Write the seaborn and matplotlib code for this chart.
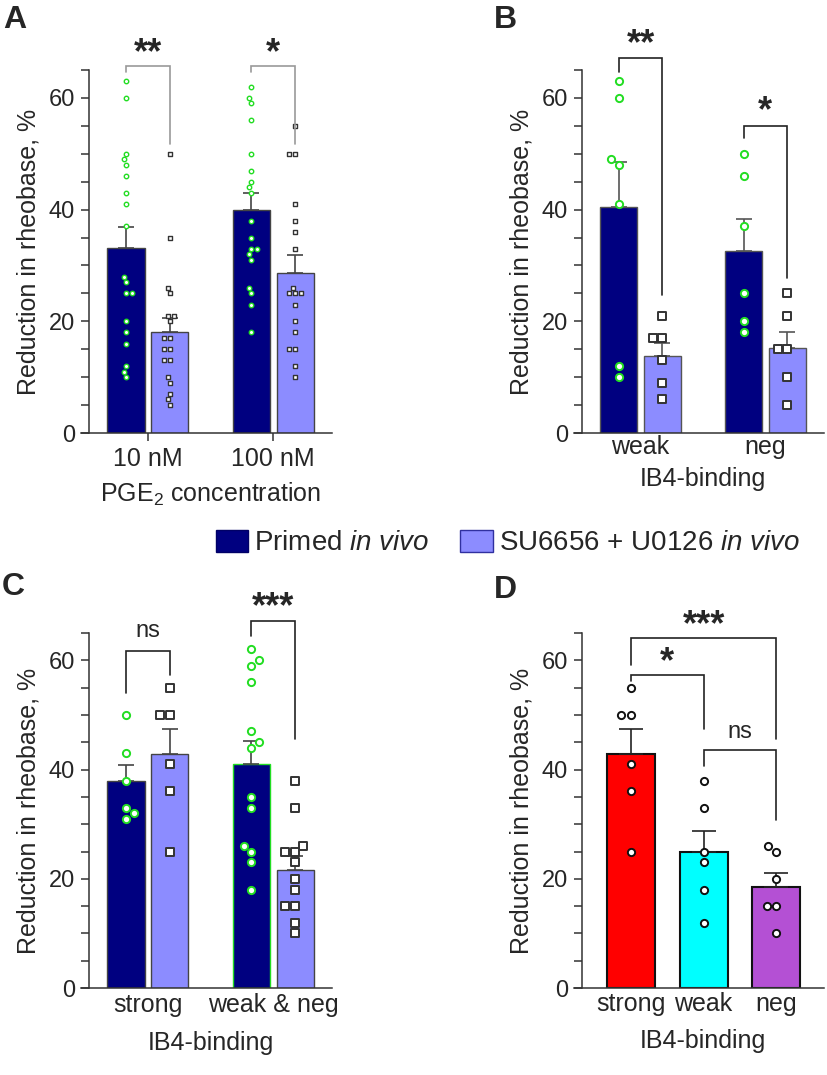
import numpy as np
import pandas as pd
import matplotlib
matplotlib.use("Agg")
import matplotlib.pyplot as plt
from matplotlib.patches import Patch
from matplotlib.ticker import MultipleLocator
import seaborn as sns

# reduction in rheobase (%) for each neuron

# A: PGE2 concentration
a_groups = ["10 nM", "100 nM"]
a_primed = [[63, 60, 50, 49, 48, 46, 43, 41, 37, 28, 27, 25, 25, 20, 18, 16, 12, 11, 10],
            [62, 60, 59, 56, 50, 47, 45, 44, 43, 38, 35, 33, 33, 32, 31, 26, 25, 23, 18]]
a_su = [[50, 35, 26, 25, 21, 21, 20, 17, 17, 15, 15, 13, 13, 10, 9, 7, 6, 5],
        [55, 50, 50, 41, 38, 36, 33, 26, 25, 25, 25, 23, 20, 18, 15, 15, 12, 10]]

# B: IB4-binding, weak / neg
b_groups = ["weak", "neg"]
b_primed = [[63, 60, 49, 48, 41, 12, 10],
            [50, 46, 37, 25, 20, 18]]
b_su = [[21, 17, 17, 13, 9, 6],
        [25, 21, 15, 15, 10, 5]]

# C: IB4-binding, strong / weak & neg
c_groups = ["strong", "weak & neg"]
c_primed = [[50, 43, 38, 33, 32, 31],
            [62, 60, 59, 56, 47, 45, 44, 35, 33, 26, 25, 23, 18]]
c_su = [[55, 50, 50, 41, 36, 25],
        [38, 33, 26, 25, 25, 23, 20, 18, 15, 15, 12, 10]]

# D: primed only, by IB4-binding
d_groups = ["strong", "weak", "neg"]
d_values = [[55, 50, 50, 41, 36, 25],
            [38, 33, 25, 23, 18, 12],
            [26, 25, 20, 15, 15, 10]]

legend_labels = ["Primed $\\mathit{in\\ vivo}$", "SU6656 + U0126 $\\mathit{in\\ vivo}$"]
bar_colors = {"primed": "#000080", "su": "#8c8cff"}
d_colors = {"strong": "#ff0000", "weak": "#00ffff", "neg": "#b450d4"}
green = "#22dd22"

sns.set_style("ticks")
plt.rcParams["font.family"] = ["Liberation Sans", "DejaVu Sans"]
plt.rcParams["mathtext.fontset"] = "custom"
plt.rcParams["mathtext.rm"] = "Liberation Sans"
plt.rcParams["mathtext.it"] = "Liberation Sans:italic"
plt.rcParams["axes.linewidth"] = 1.1
plt.rcParams["axes.edgecolor"] = "#333333"

OFF = 0.175


def pair_frame(groups, primed, su):
    rows = []
    for i, g in enumerate(groups):
        for v in primed[i]:
            rows.append((g, i - OFF, "primed", v))
        for v in su[i]:
            rows.append((g, i + OFF, "su", v))
    return pd.DataFrame(rows, columns=["group", "pos", "trt", "val"])


def style_axis(ax, xl, xr, ext, xtick_len, xpad, label_y):
    ax.set_ylim(0, 65)
    ax.set_xlim(xl, xr)
    ax.yaxis.set_major_locator(MultipleLocator(20))
    ax.yaxis.set_minor_locator(MultipleLocator(5))
    ax.tick_params(axis="y", which="both", length=6, width=1.1, labelsize=17, pad=4, color="#333333")
    ax.tick_params(axis="x", length=xtick_len, width=1.1, labelsize=18, pad=xpad, color="#333333")
    sns.despine(ax=ax)
    ax.spines["left"].set_bounds(0, 65)
    ax.spines["bottom"].set_bounds(xl - ext, xr)
    ax.spines["bottom"].set_clip_on(False)
    ax.set_ylabel("Reduction in rheobase, %", fontsize=18, labelpad=6)
    ax.xaxis.set_label_coords(0.5, label_y)


def bracket(ax, x1, x2, top, y1, y2, label, ty, tx, color="#222222", fs=26, weight="bold"):
    ax.plot([x1, x1, x2, x2], [y1, top, top, y2], color=color, lw=1.2,
            clip_on=False, solid_joinstyle="miter", zorder=5)
    ax.text(tx, ty, label, ha="center", va="center", fontsize=fs,
            fontweight=weight, clip_on=False)


def draw_pair(ax, groups, primed, su, small, edge, green_edge_idx=None):
    df = pair_frame(groups, primed, su)
    sns.barplot(data=df, x="pos", y="val", hue="trt", native_scale=True, dodge=False,
                palette=bar_colors, saturation=1, width=0.846, errorbar=None, edgecolor=edge,
                linewidth=1.0, legend=False, ax=ax, zorder=1)
    if green_edge_idx is not None:
        patch = sorted(ax.patches, key=lambda p: p.get_x())[green_edge_idx]
        patch.set_edgecolor(green)
    stats = df.groupby("pos")["val"].agg(["mean", "sem"])
    ax.errorbar(stats.index, stats["mean"], yerr=[np.zeros(len(stats)), stats["sem"]],
                fmt="none", ecolor=edge, elinewidth=1.2, capsize=5.5, capthick=1.2, zorder=3)
    size = 3.2 if small else 5.2
    lw = 1.0 if small else 1.4
    sns.swarmplot(data=df[df.trt == "primed"], x="pos", y="val", native_scale=True,
                  color="white", edgecolor=green, linewidth=lw, size=size, marker="o",
                  ax=ax, zorder=4)
    sns.swarmplot(data=df[df.trt == "su"], x="pos", y="val", native_scale=True,
                  color="white", edgecolor="#333333", linewidth=lw, size=size, marker="s",
                  ax=ax, zorder=4)
    ax.set_xticks([0, 1])
    ax.set_xticklabels(groups)


fig = plt.figure(figsize=(8.28, 10.75), dpi=100)
ax_a = fig.add_axes([0.1075, 0.5972, 0.2935, 0.3377])
ax_b = fig.add_axes([0.7029, 0.5972, 0.2923, 0.3377])
ax_c = fig.add_axes([0.1075, 0.0809, 0.2935, 0.3302])
ax_d = fig.add_axes([0.7029, 0.0809, 0.2923, 0.3302])

# A
draw_pair(ax_a, a_groups, a_primed, a_su, True, "#444444")
ax_a.set_xlabel("PGE$_2$ concentration", fontsize=18)
style_axis(ax_a, -0.47, 1.47, 0.065, 6, 4, -0.132)
bracket(ax_a, -OFF, OFF, 65.7, 64.6, 51.8, "**", 68.0, 0, color="#999999")
bracket(ax_a, 1 - OFF, 1 + OFF, 65.7, 64.6, 51.8, "*", 68.0, 1, color="#999999")

# B
draw_pair(ax_b, b_groups, b_primed, b_su, False, "#555555")
ax_b.set_xlabel("IB4-binding", fontsize=18)
style_axis(ax_b, -0.47, 1.47, 0.065, 0, 1.5, -0.094)
bracket(ax_b, -OFF, OFF, 67.1, 64.6, 24.8, "**", 69.6, 0)
bracket(ax_b, 1 - OFF, 1 + OFF, 55.0, 52.8, 27.8, "*", 57.5, 1)

# C
draw_pair(ax_c, c_groups, c_primed, c_su, False, "#444444", green_edge_idx=2)
ax_c.set_xlabel("IB4-binding", fontsize=18)
style_axis(ax_c, -0.47, 1.47, 0.065, 0, 3.5, -0.122)
bracket(ax_c, -OFF, OFF, 61.8, 54.0, 57.4, "ns", 65.4, 0, fs=17, weight="normal")
bracket(ax_c, 1 - OFF, 1 + OFF, 67.2, 64.4, 45.6, "***", 69.6, 1)

# D
rows = [(g, v) for g, vals in zip(d_groups, d_values) for v in vals]
df_d = pd.DataFrame(rows, columns=["group", "val"])
sns.barplot(data=df_d, x="group", y="val", hue="group", order=d_groups, palette=d_colors,
            saturation=1, width=0.66, errorbar=None, edgecolor="#111111", linewidth=1.5,
            legend=False, ax=ax_d, zorder=1)
d_stats = df_d.groupby("group", sort=False)["val"].agg(["mean", "sem"])
ax_d.errorbar(np.arange(len(d_groups)), d_stats["mean"], yerr=[np.zeros(len(d_groups)), d_stats["sem"]],
              fmt="none", ecolor="#222222", elinewidth=1.2, capsize=8.5, capthick=1.2, zorder=3)
sns.swarmplot(data=df_d, x="group", y="val", order=d_groups, color="white", edgecolor="#111111",
              linewidth=1.4, size=5.2, ax=ax_d, zorder=4)
ax_d.set_xlabel("IB4-binding", fontsize=18)
style_axis(ax_d, -0.676, 2.66, 0.11, 0, 3, -0.116)
bracket(ax_d, 0, 2, 64.1, 59.2, 45.6, "***", 66.4, 1)
bracket(ax_d, 0, 1, 57.4, 56.2, 47.4, "*", 59.6, 0.5)
bracket(ax_d, 1, 2, 43.5, 40.6, 30.8, "ns", 46.8, 1.5, fs=17, weight="normal")

# panel letters
for letter, x, y in [("A", 0.004, 0.995), ("B", 0.596, 0.995), ("C", 0.002, 0.468), ("D", 0.596, 0.465)]:
    fig.text(x, y, letter, fontsize=23, fontweight="bold", va="top", ha="left")

handles = [Patch(facecolor=bar_colors["primed"], edgecolor="#000066", linewidth=1.0),
           Patch(facecolor=bar_colors["su"], edgecolor="#3030a0", linewidth=1.0)]
fig.legend(handles, legend_labels, loc="center", bbox_to_anchor=(0.6135, 0.4949), ncol=2,
           frameon=False, fontsize=20, handlelength=1.17, handleheight=0.84,
           columnspacing=1.1, handletextpad=0.22, borderpad=0)

fig.savefig("out.png", dpi=100)
